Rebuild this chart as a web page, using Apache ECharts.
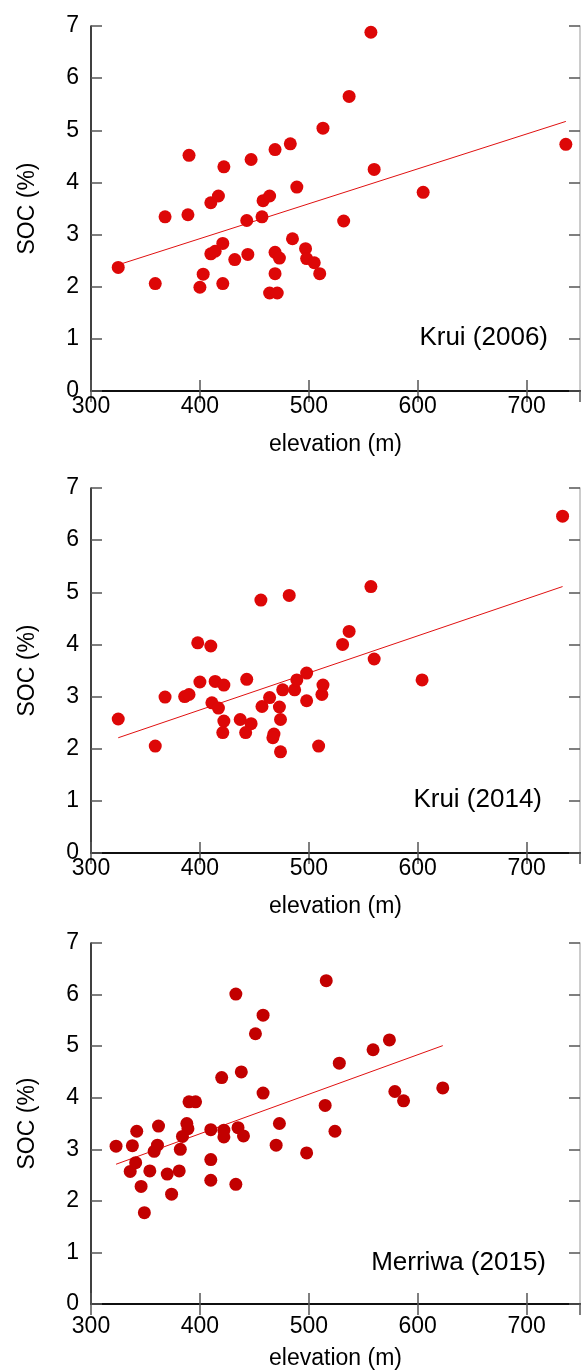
<!DOCTYPE html>
<html><head><meta charset="utf-8">
<script src="https://cdn.jsdelivr.net/npm/echarts@6/dist/echarts.min.js"></script>
<style>html,body{margin:0;padding:0;background:#fff}#c{width:581px;height:1371px}</style>
</head><body><div id="c"></div>
<script>
// ---- data ----
const xTickLabels = ['300','400','500','600','700'];
const yTickLabels = ['0','1','2','3','4','5','6','7'];
const panelLabels = ['Krui (2006)', 'Krui (2014)', 'Merriwa (2015)'];
const xTitle = 'elevation (m)';
const yTitle = 'SOC (%)';

const krui2006 = [
  [325,2.37],[359,2.06],[368,3.34],[389,3.38],[390,4.52],[400,1.99],[403,2.24],[410,3.61],
  [417,3.74],[410,2.63],[414,2.68],[421,2.83],[421,2.06],[422,4.30],[432,2.52],[443,3.27],
  [444,2.62],[447,4.44],[457,3.34],[458,3.65],[464,3.74],[469,4.63],[469,2.66],[473,2.55],
  [469,2.25],[464,1.88],[471,1.88],[483,4.74],[485,2.92],[489,3.91],[497,2.73],[498,2.54],
  [505,2.46],[510,2.25],[513,5.04],[532,3.26],[537,5.65],[557,6.88],[560,4.25],[605,3.81],
  [736,4.73]
];
const krui2006Trend = [[325,2.42],[736,5.17]];

const krui2014 = [
  [325,2.57],[359,2.05],[368,2.99],[386,3.00],[390,3.04],[398,4.03],[400,3.28],[410,3.97],
  [411,2.88],[414,3.29],[417,2.78],[422,3.22],[422,2.53],[421,2.31],[437,2.56],[443,3.33],
  [447,2.48],[442,2.31],[456,4.85],[457,2.81],[464,2.98],[468,2.28],[467,2.21],[473,2.80],
  [474,2.56],[474,1.94],[476,3.13],[482,4.94],[487,3.13],[489,3.32],[498,2.92],[498,3.45],
  [509,2.05],[512,3.04],[513,3.22],[531,4.00],[537,4.25],[557,5.11],[560,3.72],[604,3.32],
  [733,6.46]
];
const krui2014Trend = [[325,2.21],[733,5.11]];

const merriwa2015 = [
  [323,3.06],[338,3.07],[342,3.35],[336,2.57],[341,2.74],[346,2.28],[349,1.77],[354,2.58],
  [358,2.96],[361,3.08],[362,3.45],[370,2.52],[374,2.13],[381,2.58],[382,3.00],[384,3.25],
  [388,3.50],[389,3.40],[390,3.92],[396,3.92],[410,3.38],[410,2.80],[410,2.40],[420,4.39],
  [422,3.37],[422,3.24],[433,6.01],[433,2.32],[435,3.42],[438,4.50],[440,3.26],[451,5.24],
  [458,5.60],[458,4.09],[470,3.08],[473,3.50],[498,2.93],[515,3.85],[516,6.27],[524,3.35],
  [528,4.67],[559,4.93],[574,5.12],[579,4.12],[587,3.94],[623,4.19]
];
const merriwa2015Trend = [[323,2.71],[623,5.01]];

// ---- layout / style ----
const FONT = '"Liberation Sans", Arial, Helvetica, sans-serif';
const panels = [
  {data: krui2006, trend: krui2006Trend, top: 26, labelMargin: 4, nameGap: 42, dot: '#dd0707', line: '#e01010', lx: 548, ly: 338},
  {data: krui2014, trend: krui2014Trend, top: 488, labelMargin: 4, nameGap: 42, dot: '#dd0707', line: '#e01010', lx: 542, ly: 800},
  {data: merriwa2015, trend: merriwa2015Trend, top: 943, labelMargin: 11, nameGap: 43, dot: '#c20000', line: '#e01010', lx: 546, ly: 1263}
];
const PH = 365, LEFT = 91;

const grid = [], xAxis = [], yAxis = [], series = [], graphic = [];
const tick = {show: true, inside: true, length: 11, lineStyle: {color: '#555', width: 1.5}};
panels.forEach((p, i) => {
  grid.push({left: LEFT, right: 1, top: p.top, height: PH, containLabel: false});
  xAxis.push({
    type: 'value', gridIndex: i, position: 'bottom', min: 300, max: 749, interval: 100,
    axisLine: {show: true, lineStyle: {color: '#000', width: 1.5}},
    axisTick: tick, splitLine: {show: false},
    axisLabel: {fontSize: 23, color: '#000', fontFamily: FONT, margin: p.labelMargin, showMaxLabel: false,
      formatter: v => { const s = String(v); return xTickLabels.includes(s) ? s : ''; }},
    name: xTitle, nameLocation: 'middle', nameGap: p.nameGap,
    nameTextStyle: {fontSize: 23, color: '#000', fontFamily: FONT}
  });
  xAxis.push({
    type: 'value', gridIndex: i, position: 'top', min: 300, max: 749, interval: 100,
    axisLine: {show: true, lineStyle: {color: '#000', width: 1.5}},
    axisTick: tick, axisLabel: {show: false}, splitLine: {show: false}
  });
  yAxis.push({
    type: 'value', gridIndex: i, position: 'left', min: 0, max: 7, interval: 1,
    axisLine: {show: true, lineStyle: {color: '#000', width: 1.5}},
    axisTick: tick, splitLine: {show: false},
    axisLabel: {fontSize: 23, color: '#000', fontFamily: FONT, margin: 12, padding: [0, 0, 6, 0],
      formatter: v => { const s = String(v); return yTickLabels.includes(s) ? s : ''; }},
    name: yTitle, nameLocation: 'middle', nameGap: 52, nameRotate: 90,
    nameTextStyle: {fontSize: 23, color: '#000', fontFamily: FONT}
  });
  yAxis.push({
    type: 'value', gridIndex: i, position: 'right', min: 0, max: 7, interval: 1,
    axisLine: {show: true, lineStyle: {color: '#bbb', width: 1.5}},
    axisTick: tick, axisLabel: {show: false}, splitLine: {show: false}
  });
  series.push({
    type: 'scatter', xAxisIndex: 2 * i, yAxisIndex: 2 * i, data: p.data,
    symbolSize: 13, itemStyle: {color: p.dot, opacity: 1}, z: 3
  });
  series.push({
    type: 'line', xAxisIndex: 2 * i, yAxisIndex: 2 * i, data: p.trend,
    showSymbol: false, symbol: 'none', lineStyle: {color: p.line, width: 1}, z: 2
  });
  graphic.push({
    type: 'text', x: p.lx, y: p.ly,
    style: {text: panelLabels[i], fontSize: 26, fontFamily: FONT, fill: '#000',
      textAlign: 'right', textVerticalAlign: 'middle'}
  });
});

const chart = echarts.init(document.getElementById('c'), null, {renderer: 'canvas'});
chart.setOption({animation: false, backgroundColor: '#fff', grid, xAxis, yAxis, series, graphic});
</script>
</body></html>
